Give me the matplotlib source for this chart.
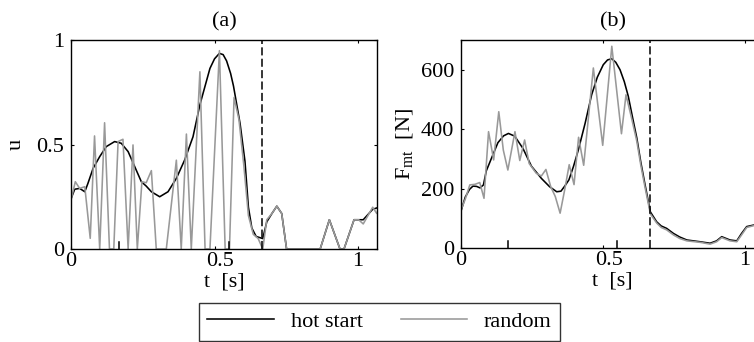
import matplotlib
matplotlib.use("Agg")
import matplotlib.pyplot as plt
from matplotlib.transforms import ScaledTranslation

plt.rcParams['font.family'] = ['Liberation Serif', 'DejaVu Serif']
plt.rcParams['mathtext.fontset'] = 'custom'
plt.rcParams['mathtext.rm'] = 'Liberation Serif'
plt.rcParams['mathtext.it'] = 'Liberation Serif:italic'
plt.rcParams['lines.scale_dashes'] = False

# ---------------- data ----------------
# panel (a): excitation u
t_hot_a = [0, 0.013, 0.03, 0.048, 0.059, 0.077, 0.1, 0.123, 0.152, 0.175, 0.199,
           0.222, 0.245, 0.262, 0.28, 0.309, 0.338, 0.367, 0.396, 0.425, 0.449,
           0.484, 0.50, 0.517, 0.53, 0.542, 0.556, 0.566, 0.589, 0.606, 0.618,
           0.630, 0.645, 0.668, 0.682, 0.70, 0.717, 0.734, 0.751, 0.868, 0.90,
           0.937, 0.951, 0.986, 1.018, 1.051, 1.073]
u_hot = [0.24, 0.286, 0.29, 0.274, 0.314, 0.386, 0.442, 0.49, 0.514, 0.506, 0.466,
         0.394, 0.322, 0.301, 0.274, 0.25, 0.274, 0.338, 0.426, 0.537, 0.69,
         0.864, 0.91, 0.936, 0.93, 0.90, 0.84, 0.78, 0.60, 0.42, 0.20,
         0.10, 0.06, 0.05, 0.13, 0.17, 0.205, 0.17, 0.0, 0.0, 0.14,
         0.0, 0.0, 0.14, 0.14, 0.19, 0.20]

t_rand_a = [0, 0.015, 0.030, 0.048, 0.067, 0.082, 0.100, 0.117, 0.134, 0.149,
            0.164, 0.181, 0.199, 0.216, 0.231, 0.247, 0.262, 0.280, 0.297, 0.332,
            0.367, 0.384, 0.402, 0.419, 0.449, 0.467, 0.484, 0.517, 0.537, 0.552,
            0.568, 0.585, 0.602, 0.618, 0.635, 0.652, 0.668, 0.682, 0.70, 0.717,
            0.734, 0.751, 0.868, 0.90, 0.937, 0.951, 0.986, 1.002, 1.018, 1.051,
            1.065, 1.073]
u_rand = [0.234, 0.322, 0.290, 0.298, 0.051, 0.541, 0.0, 0.604, 0.0, 0.0,
          0.514, 0.525, 0.0, 0.498, 0.0, 0.322, 0.317, 0.375, 0.0, 0.0,
          0.425, 0.0, 0.55, 0.0, 0.848, 0.0, 0.0, 0.949, 0.0, 0.0,
          0.725, 0.62, 0.40, 0.16, 0.07, 0.05, 0.0, 0.14, 0.17, 0.205,
          0.17, 0.0, 0.0, 0.14, 0.0, 0.0, 0.14, 0.14, 0.12, 0.20,
          0.17, 0.19]

# panel (b): muscle-tendon force F_mt [N]
t_hot_b = [0, 0.015, 0.03, 0.042, 0.055, 0.067, 0.079, 0.089, 0.107, 0.130, 0.150,
           0.167, 0.189, 0.218, 0.248, 0.283, 0.312, 0.337, 0.352, 0.366, 0.38,
           0.396, 0.413, 0.437, 0.46, 0.48, 0.501, 0.516, 0.531, 0.545, 0.56,
           0.575, 0.589, 0.604, 0.619, 0.633, 0.648, 0.667, 0.689, 0.705, 0.724,
           0.748, 0.77, 0.795, 0.842, 0.877, 0.90, 0.918, 0.947, 0.971, 0.988,
           1.006, 1.03, 1.067]
F_hot = [125, 172, 198, 209, 208, 203, 213, 260, 302, 355, 378,
         386, 377, 336, 276, 235, 207, 190, 192, 210, 230,
         275, 330, 420, 516, 575, 617, 633, 637, 625, 600,
         560, 511, 440, 371, 290, 214, 122, 89, 75, 67,
         50, 38, 28, 22, 17, 25, 39, 28, 25, 50,
         73, 78, 80]

t_rand_b = [0, 0.015, 0.031, 0.049, 0.066, 0.081, 0.097, 0.115, 0.133, 0.149,
            0.165, 0.190, 0.207, 0.224, 0.240, 0.265, 0.283, 0.299, 0.316, 0.332,
            0.349, 0.365, 0.381, 0.398, 0.414, 0.432, 0.466, 0.499, 0.531, 0.565,
            0.581, 0.60, 0.619, 0.633, 0.648, 0.667, 0.689, 0.705, 0.724, 0.748,
            0.77, 0.795, 0.842, 0.877, 0.90, 0.918, 0.947, 0.971, 0.988, 1.006,
            1.03, 1.067]
F_rand = [129, 165, 213, 215, 221, 168, 392, 297, 459, 330,
          263, 392, 295, 364, 285, 252, 243, 265, 207, 174,
          118, 196, 281, 214, 373, 279, 606, 346, 679, 385,
          516, 440, 360, 280, 205, 115, 85, 70, 62, 45,
          33, 25, 20, 14, 22, 36, 25, 22, 45, 70,
          76, 78]

t_switch = 0.667          # dashed vertical line
event_times = [0.167, 0.55]  # short black marks on bottom axis

titles = ['(a)', '(b)']
xticks = [0, 0.5, 1]
xticklabels = ['0', '0.5', '1']
yticks_a = [0, 0.5, 1]
yticklabels_a = ['0', '0.5', '1']
yticks_b = [0, 200, 400, 600]
yticklabels_b = ['0', '200', '400', '600']
legend_labels = ['hot start', 'random']

# ---------------- figure ----------------
W, H = 754, 342
fig = plt.figure(figsize=(W / 100, H / 100), dpi=100)

def frac(l, r, top, bot):
    return [l / W, 1 - bot / H, (r - l) / W, (bot - top) / H]

ax_a = fig.add_axes(frac(71, 377.3, 40, 249))
ax_b = fig.add_axes(frac(461, 461 + 1.067 * 284, 40, 248.3))

FS = 16
grey = '#999999'
lw = 1.15

def style(ax, yt, ytl, ylim):
    ax.set_xlim(0, 1.067)
    ax.set_ylim(*ylim)
    ax.set_xticks(xticks)
    ax.set_xticklabels(xticklabels)
    ax.set_yticks(yt)
    ax.set_yticklabels(ytl)
    ax.tick_params(direction='in', length=2.5, width=0.8, top=True, right=True,
                   labelsize=FS)
    ax.tick_params(axis='x', pad=2)
    ax.tick_params(axis='y', pad=5)
    for s in ax.spines.values():
        s.set_linewidth(1.0)
        s.set_zorder(5)
    ax.axvline(t_switch, color='k', lw=1.1, dashes=(5.8, 2.4), zorder=4)
    for te in event_times:
        ax.axvline(te, ymin=0, ymax=0.033, color='k', lw=1.1, zorder=4)

l1, = ax_a.plot(t_hot_a, u_hot, color='k', lw=lw, zorder=2)
l2, = ax_a.plot(t_rand_a, u_rand, color=grey, lw=lw, zorder=3)
style(ax_a, yticks_a, yticklabels_a, (0, 1))

ax_b.plot(t_hot_b, F_hot, color='k', lw=lw, zorder=2)
ax_b.plot(t_rand_b, F_rand, color=grey, lw=lw, zorder=3)
style(ax_b, yticks_b, yticklabels_b, (0, 700))

for ax, ttl in zip([ax_a, ax_b], titles):
    ax.text(0.5, 1.088, ttl, transform=ax.transAxes, ha='center', va='center',
            fontsize=FS)
    ax.set_xlabel('t  [s]', fontsize=FS)
    ax.xaxis.set_label_coords(0.5, -0.158)
    ax.xaxis.label.set_va('center')
    # MATLAB places the "0.5" label slightly right of its tick
    lab = ax.get_xticklabels()[1]
    lab.set_transform(lab.get_transform() + ScaledTranslation(6 / 100, 0, fig.dpi_scale_trans))

ax_a.set_ylabel('u', fontsize=FS)
ax_a.yaxis.set_label_coords(-0.178, 0.5)
ax_a.yaxis.label.set_va('center')
ax_b.set_ylabel(r'$\mathregular{F_{mt}}$  [N]', fontsize=FS)
ax_b.yaxis.set_label_coords(-0.185, 0.5)
ax_b.yaxis.label.set_va('center')

leg = fig.legend([l1, l2], legend_labels, loc='center',
                 bbox_to_anchor=(379.5 / W, 1 - 321.7 / H), ncol=2,
                 fontsize=FS, frameon=True, fancybox=False, handlelength=3.0,
                 handletextpad=0.75, columnspacing=1.7, borderpad=0.4,
                 borderaxespad=0)
leg.get_frame().set_edgecolor('k')
leg.get_frame().set_linewidth(1.0)

fig.savefig('out.png', dpi=100)
